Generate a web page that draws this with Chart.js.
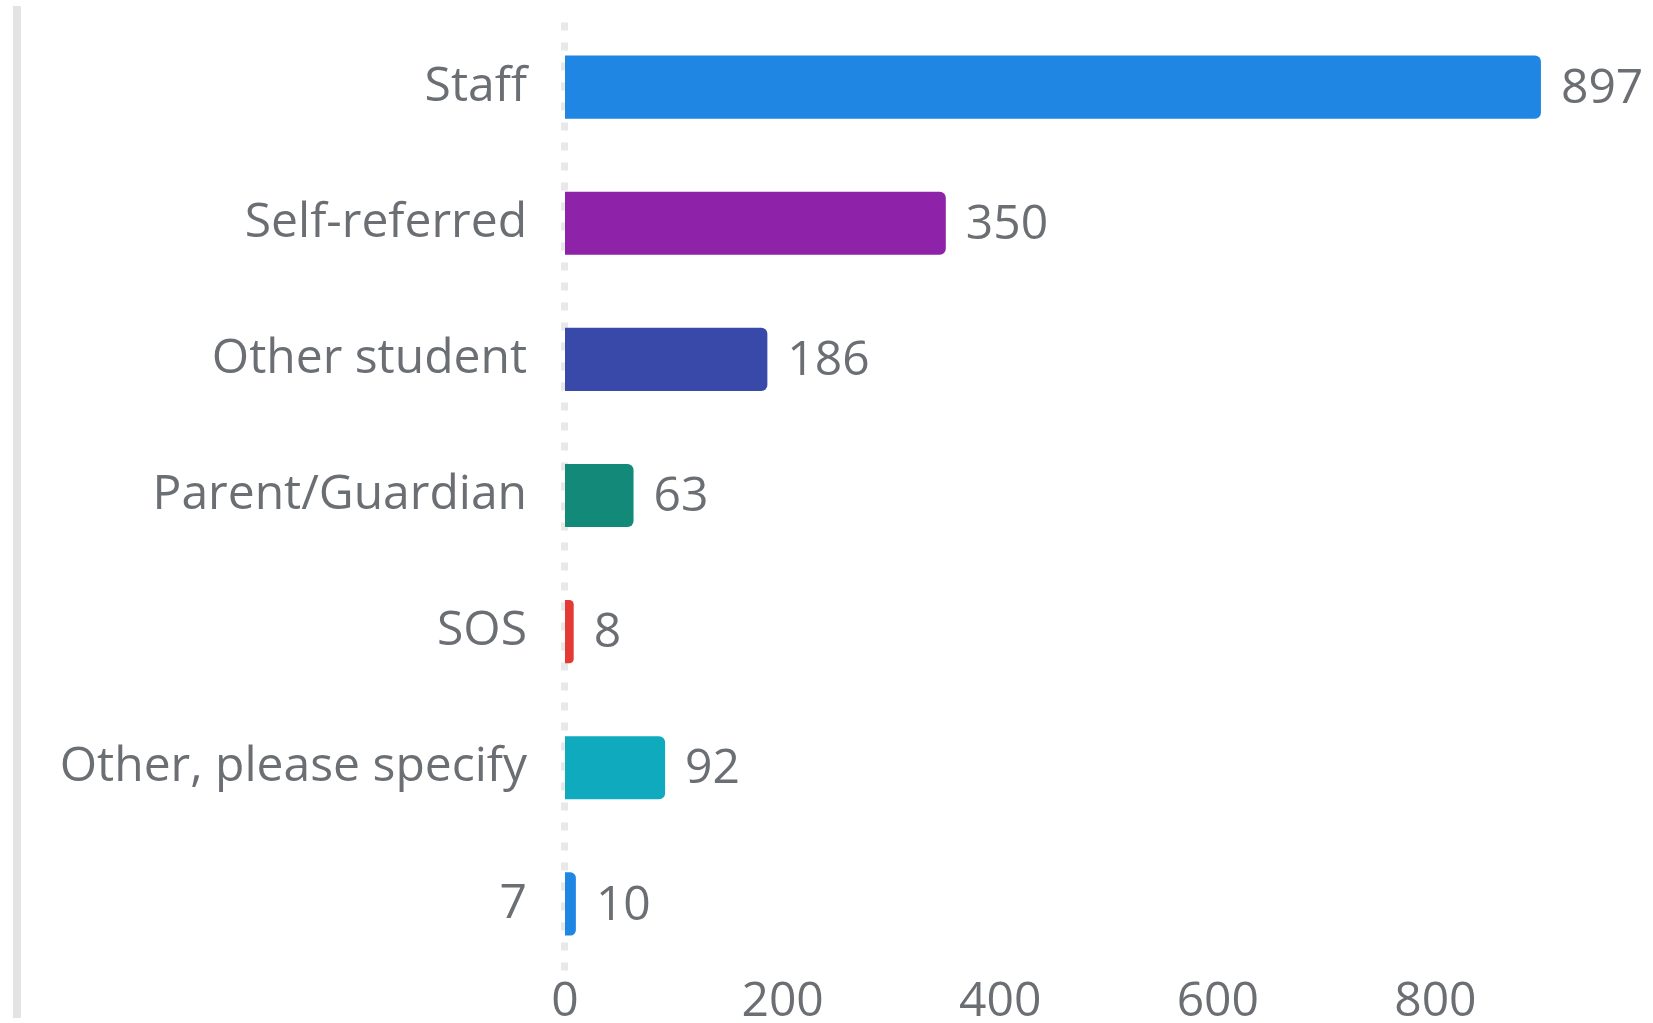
<!DOCTYPE html>
<html>
<head>
<meta charset="utf-8">
<script src="https://cdn.jsdelivr.net/npm/chart.js@4/dist/chart.umd.min.js"></script>
<style>
  html, body { margin: 0; padding: 0; background: #fff; overflow: hidden; }
  #wrap { position: relative; width: 1653px; height: 1023px; }
  #stripe { position: absolute; left: 13px; top: 6px; width: 8px; height: 1012px; background: #e3e3e3; }
  canvas { position: absolute; left: 0; top: 0; }
</style>
</head>
<body>
<div id="wrap">
  <div id="stripe"></div>
  <canvas id="referralChart" width="1653" height="1023"></canvas>
</div>
<script>
// referral sources
const categories = ['Staff', 'Self-referred', 'Other student', 'Parent/Guardian', 'SOS', 'Other, please specify', '7'];
const counts = [897, 350, 186, 63, 8, 92, 10];
const barColors = ['#2086e3', '#8e22a8', '#3949a9', '#13897a', '#e53935', '#10aabf', '#2086e3'];
const xTicks = [0, 200, 400, 600, 800];

const textColor = '#6b6f74';
const fontFamily = '"Open Sans", "Noto Sans", sans-serif';

// dotted line at zero, under the bars
const zeroLine = {
    id: 'zeroLine',
    beforeDatasetsDraw(chart) {
        const ctx = chart.ctx;
        const area = chart.chartArea;
        const x = chart.scales.x.getPixelForValue(0) - 0.5;
        ctx.save();
        ctx.strokeStyle = '#e8e8e8';
        ctx.lineWidth = 7;
        ctx.setLineDash([8, 12]);
        ctx.beginPath();
        ctx.moveTo(x, area.top + 3.5);
        ctx.lineTo(x, area.bottom);
        ctx.stroke();
        ctx.restore();
    }
};

// draws the count just after the end of each bar
const valueLabels = {
    id: 'valueLabels',
    afterDatasetsDraw(chart) {
        const ctx = chart.ctx;
        const meta = chart.getDatasetMeta(0);
        ctx.save();
        ctx.font = '48px ' + fontFamily;
        ctx.fillStyle = textColor;
        ctx.textAlign = 'left';
        ctx.textBaseline = 'middle';
        meta.data.forEach(function(bar, i) {
            ctx.fillText(String(counts[i]), bar.x + 20, bar.y + 2);
        });
        ctx.restore();
    }
};

const ctx = document.getElementById('referralChart').getContext('2d');
new Chart(ctx, {
    type: 'bar',
    data: {
        labels: categories,
        datasets: [{
            data: counts,
            backgroundColor: barColors,
            borderRadius: 6,
            borderSkipped: 'start',
            barPercentage: 0.58,
            categoryPercentage: 0.8
        }]
    },
    options: {
        indexAxis: 'y',
        responsive: false,
        animation: false,
        layout: { padding: { top: 19, right: 0, left: 0, bottom: 0 } },
        plugins: {
            legend: { display: false },
            tooltip: { enabled: false }
        },
        scales: {
            x: {
                min: 0,
                max: 1000,
                grid: { display: false, drawTicks: false },
                border: { display: false },
                afterBuildTicks(scale) {
                    scale.ticks = xTicks.map(v => ({ value: v }));
                },
                afterFit(scale) {
                    scale.height = 51;
                    scale.paddingLeft = 0;
                    scale.paddingRight = 0;
                },
                ticks: {
                    color: textColor,
                    padding: 2,
                    font: { family: fontFamily, size: 48 }
                }
            },
            y: {
                grid: { display: false, drawTicks: false },
                border: { display: false },
                afterFit(scale) {
                    scale.width = 565;
                    scale.paddingTop = 0;
                    scale.paddingBottom = 0;
                },
                ticks: {
                    color: textColor,
                    padding: 38,
                    font: { family: fontFamily, size: 48 }
                }
            }
        }
    },
    plugins: [zeroLine, valueLabels]
});
</script>
</body>
</html>
